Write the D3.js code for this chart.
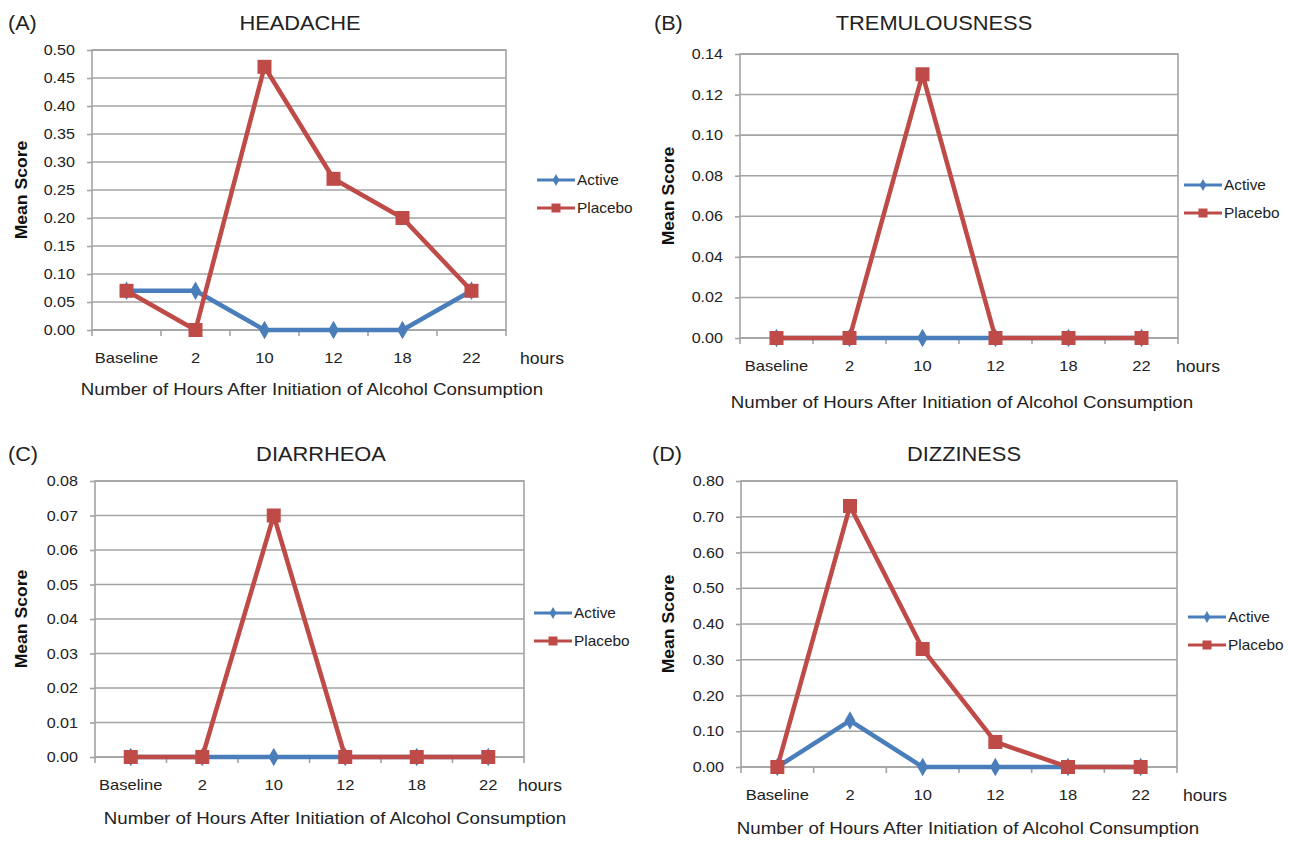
<!DOCTYPE html>
<html>
<head>
<meta charset="utf-8">
<script src="https://cdn.jsdelivr.net/npm/d3@7"></script>
<style>
  body { margin: 0; background: #fff; }
  svg { display: block; font-family: 'Liberation Sans', Arial, sans-serif; }
</style>
</head>
<body>
<svg id="chart" width="1291" height="841"></svg>
<script>
'use strict';

// ----------------------------  DATA  ----------------------------
const categories = ['Baseline', '2', '10', '12', '18', '22'];
const seriesNames = ['Active', 'Placebo'];

const headacheActive = [0.07, 0.07, 0, 0, 0, 0.07];
const headachePlacebo = [0.07, 0, 0.47, 0.27, 0.20, 0.07];
const headacheTicks = [0, 0.05, 0.10, 0.15, 0.20, 0.25, 0.30, 0.35, 0.40, 0.45, 0.50];

const tremorActive = [0, 0, 0, 0, 0, 0];
const tremorPlacebo = [0, 0, 0.13, 0, 0, 0];
const tremorTicks = [0, 0.02, 0.04, 0.06, 0.08, 0.10, 0.12, 0.14];

const diarrhoeaActive = [0, 0, 0, 0, 0, 0];
const diarrhoeaPlacebo = [0, 0, 0.07, 0, 0, 0];
const diarrhoeaTicks = [0, 0.01, 0.02, 0.03, 0.04, 0.05, 0.06, 0.07, 0.08];

const dizzinessActive = [0, 0.13, 0, 0, 0, 0];
const dizzinessPlacebo = [0, 0.73, 0.33, 0.07, 0, 0];
const dizzinessTicks = [0, 0.10, 0.20, 0.30, 0.40, 0.50, 0.60, 0.70, 0.80];

// ----------------------------  LAYOUT  ----------------------------
const colors = { Active: '#4a7ebb', Placebo: '#be4b48' };
const gridColor = '#a3a3a3';
const textColor = '#222';
const fmt = d3.format('.2f');

const panels = [
  {
    letter: '(A)', title: 'HEADACHE', active: headacheActive, placebo: headachePlacebo, ticks: headacheTicks,
    box: { left: 92, right: 506, top: 50, bottom: 330 },
    letterX: 8, titleX: 300, titleY: 30, xTitleX: 312, xTitleY: 395, yTitleX: 21,
    hoursX: 520, legendX: 537, legendY: 180
  },
  {
    letter: '(B)', title: 'TREMULOUSNESS', active: tremorActive, placebo: tremorPlacebo, ticks: tremorTicks,
    box: { left: 740, right: 1178, top: 54, bottom: 338 },
    letterX: 654, titleX: 934, titleY: 30, xTitleX: 962, xTitleY: 408, yTitleX: 668,
    hoursX: 1176, legendX: 1184, legendY: 185
  },
  {
    letter: '(C)', title: 'DIARRHEOA', active: diarrhoeaActive, placebo: diarrhoeaPlacebo, ticks: diarrhoeaTicks,
    box: { left: 95, right: 524, top: 481, bottom: 757 },
    letterX: 8, titleX: 321, titleY: 461, xTitleX: 335, xTitleY: 824, yTitleX: 21,
    hoursX: 518, legendX: 534, legendY: 613
  },
  {
    letter: '(D)', title: 'DIZZINESS', active: dizzinessActive, placebo: dizzinessPlacebo, ticks: dizzinessTicks,
    box: { left: 741, right: 1177, top: 481, bottom: 767 },
    letterX: 652, titleX: 964, titleY: 461, xTitleX: 968, xTitleY: 834, yTitleX: 668,
    hoursX: 1183, legendX: 1188, legendY: 617
  }
];

const svg = d3.select('#chart');
const diamond = d3.symbol().type(d3.symbolDiamond);
const square = d3.symbol().type(d3.symbolSquare);

function marker(sel, name, size) {
  if (name === 'Active') {
    sel.attr('d', diamond.size(size * size * 0.5)());
  } else {
    sel.attr('d', square.size(size * size)());
  }
}

// the reference text is a little wider than plain Arial, so stretch it horizontally
function label(parent, x, y, str, size, sx, anchor) {
  return parent.append('g')
    .attr('transform', `translate(${x},${y}) scale(${sx},1)`)
    .append('text')
    .attr('text-anchor', anchor || 'start')
    .attr('font-size', size)
    .attr('fill', textColor)
    .text(str);
}

function drawPanel(p) {
  const b = p.box;
  const g = svg.append('g');

  const x = d3.scaleBand().domain(categories).range([b.left, b.right]).padding(0);
  const y = d3.scaleLinear().domain([0, d3.max(p.ticks)]).range([b.bottom, b.top]);
  const cx = c => x(c) + x.bandwidth() / 2;

  // letter and title
  label(g, p.letterX, p.titleY, p.letter, 20, 1.08);
  label(g, p.titleX, p.titleY, p.title, 21, 1.04, 'middle');

  // gridlines
  g.append('g').selectAll('line').data(p.ticks).join('line')
    .attr('x1', b.left).attr('x2', b.right)
    .attr('y1', d => y(d)).attr('y2', d => y(d))
    .attr('stroke', gridColor).attr('stroke-width', 1.6);

  // frame
  g.append('rect').attr('x', b.left).attr('y', b.top)
    .attr('width', b.right - b.left).attr('height', b.bottom - b.top)
    .attr('fill', 'none').attr('stroke', gridColor).attr('stroke-width', 1.6);

  // y axis ticks (labels drawn separately so they can be stretched)
  const yAxis = g.append('g').attr('transform', `translate(${b.left},0)`)
    .call(d3.axisLeft(y).tickValues(p.ticks).tickFormat('').tickSize(5));
  yAxis.select('.domain').remove();
  yAxis.selectAll('line').attr('stroke', gridColor).attr('stroke-width', 1.6);
  p.ticks.forEach(t => label(g, b.left - 17, y(t) + 5, fmt(t), 14, 1.15, 'end'));

  // x boundary ticks
  const bounds = categories.map(c => x(c)).concat([b.right]);
  g.append('g').selectAll('line').data(bounds).join('line')
    .attr('x1', d => d).attr('x2', d => d)
    .attr('y1', b.bottom).attr('y2', b.bottom + 6)
    .attr('stroke', gridColor).attr('stroke-width', 1.6);

  // x labels
  categories.forEach(c => label(g, cx(c), b.bottom + 33, c, 14, 1.18, 'middle'));
  label(g, p.hoursX, b.bottom + 34, 'hours', 16, 1.1);

  // axis titles
  label(g, p.xTitleX, p.xTitleY, 'Number of Hours After Initiation of Alcohol Consumption', 17, 1.1, 'middle');
  g.append('text')
    .attr('transform', `translate(${p.yTitleX},${(b.top + b.bottom) / 2}) rotate(-90) scale(1.1,1)`)
    .attr('text-anchor', 'middle').attr('dy', '0.35em')
    .attr('font-size', 16).attr('font-weight', 'bold').attr('fill', '#111').text('Mean Score');

  // series
  const series = [
    { name: 'Active', values: p.active },
    { name: 'Placebo', values: p.placebo }
  ];
  const line = d3.line().x((d, i) => cx(categories[i])).y(d => y(d));

  series.forEach(s => {
    const sg = g.append('g');
    sg.append('path').datum(s.values).attr('d', line)
      .attr('fill', 'none').attr('stroke', colors[s.name])
      .attr('stroke-width', 4.5).attr('stroke-linejoin', 'round');
    sg.selectAll('path.mk').data(s.values).join('path').attr('class', 'mk')
      .attr('transform', (d, i) => `translate(${cx(categories[i])},${y(d)})`)
      .call(marker, s.name, 14)
      .attr('fill', colors[s.name]);
  });

  // legend
  seriesNames.forEach((name, i) => {
    const ly = p.legendY + i * 28;
    const lg = g.append('g');
    lg.append('line').attr('x1', p.legendX).attr('x2', p.legendX + 38)
      .attr('y1', ly).attr('y2', ly)
      .attr('stroke', colors[name]).attr('stroke-width', 3);
    lg.append('path').attr('transform', `translate(${p.legendX + 19},${ly})`)
      .call(marker, name, 9)
      .attr('fill', colors[name]);
    label(lg, p.legendX + 40, ly + 5, name, 14, 1.1);
  });
}

panels.forEach(drawPanel);
</script>
</body>
</html>
